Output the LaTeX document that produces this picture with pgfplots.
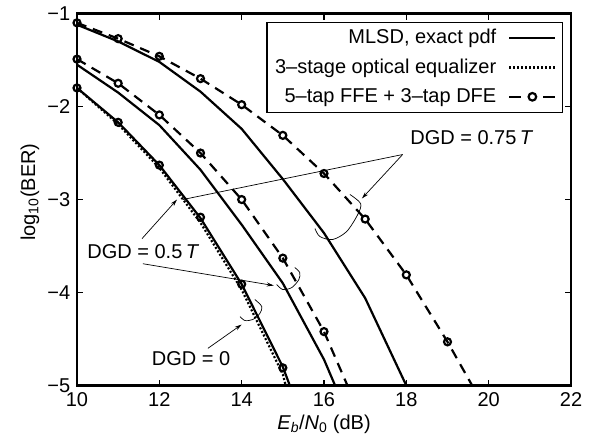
\documentclass[border=0pt]{standalone}
\usepackage{fontspec}
\setmainfont{Liberation Sans}
\usepackage{pgfplots}
\pgfplotsset{compat=1.18}
\usetikzlibrary{arrows.meta}

\newcommand{\fs}{\fontsize{20}{23}\selectfont}

\begin{document}
\fs
\begin{tikzpicture}
\begin{axis}[
    scale only axis,
    width=494pt, height=372pt,
    xmin=10, xmax=22, ymin=-5, ymax=-1,
    xtick={10,12,...,22}, ytick={-5,-4,-3,-2,-1},
    xticklabels={10,12,14,16,18,20,22},
    yticklabels={−5,−4,−3,−2,−1},
    tick align=inside, major tick length=6pt,
    tick style={line width=1.5pt, black},
    axis line style={line width=2.2pt},
    tick label style={font=\fs},
    xlabel={\textit{E}\textsubscript{\textit{b}}/\textit{N}\textsubscript{0} (dB)},
    ylabel={log\textsubscript{10}(BER)},
    label style={font=\fs},
    xlabel style={at={(axis description cs:0.5,-0.105)}, anchor=center},
    ylabel style={at={(axis description cs:-0.095,0.52)}, anchor=center},
    legend style={at={(0.984,0.978)}, anchor=north east, draw=black,
        line width=1.2pt, font=\fs, row sep=8pt, inner xsep=6pt, inner ysep=5pt},
    legend cell align=right, legend plot pos=right,
    legend image code/.code={\path (0pt,0pt) (56pt,0pt); \draw[#1] (10pt,0pt) -- (56pt,0pt);},
]
\addlegendimage{line width=2.2pt, black}
\addlegendentry{MLSD, exact pdf}
\addlegendimage{line width=2.2pt, black, dash pattern=on 2pt off 2pt}
\addlegendentry{3–stage optical equalizer}
\addlegendimage{line width=2.2pt, black, legend image code/.code={
    \path (0pt,0pt) (56pt,0pt);
    \draw[line width=2.2pt] (10pt,0pt) -- (22pt,0pt) (44pt,0pt) -- (56pt,0pt);
    \draw[line width=2.2pt] (33pt,0pt) circle (3.8pt);}}
\addlegendentry{5–tap FFE + 3–tap DFE}

% MLSD, exact pdf
\addplot[forget plot, black, line width=2.2pt] coordinates {
    (10,-1.80)(11,-2.17)(12,-2.63)(13,-3.20)(14,-3.91)(15,-4.80)(15.17,-5)};
\addplot[forget plot, black, line width=2.2pt] coordinates {
    (10,-1.55)(11,-1.85)(12,-2.20)(13,-2.68)(14,-3.27)(15,-3.90)(16,-4.72)(16.27,-5)};
\addplot[forget plot, black, line width=2.2pt] coordinates {
    (10,-1.12)(11,-1.30)(12,-1.52)(13,-1.84)(14,-2.24)(15,-2.78)(16,-3.36)(17,-4.06)(18,-5)};

% optical equalizer
\addplot[forget plot, black, line width=2.2pt, dash pattern=on 2pt off 2pt] coordinates {
    (10,-1.80)(11,-2.19)(12,-2.66)(13,-3.25)(14,-3.97)(15,-4.88)(15.07,-5)};

% FFE + DFE, lines
\addplot[forget plot, black, line width=2.2pt, dash pattern=on 10pt off 7pt] coordinates {
    (10,-1.49)(11,-1.75)(12,-2.09)(13,-2.50)(14,-3.00)(15,-3.63)(16,-4.42)(16.57,-5)};
\addplot[forget plot, black, line width=2.2pt, dash pattern=on 10pt off 7pt] coordinates {
    (10,-1.10)(11,-1.27)(12,-1.46)(13,-1.70)(14,-1.98)(15,-2.31)(16,-2.72)(17,-3.21)(18,-3.81)(19,-4.53)(19.6,-5)};

% FFE + DFE, marks
\addplot[forget plot, only marks, mark=o, mark size=3.5pt, mark options={line width=2.2pt, fill=white}] coordinates {
    (10,-1.80)(11,-2.17)(12,-2.63)(13,-3.19)(14,-3.91)(15,-4.81)};
\addplot[forget plot, only marks, mark=o, mark size=3.5pt, mark options={line width=2.2pt, fill=white}] coordinates {
    (10,-1.49)(11,-1.75)(12,-2.09)(13,-2.50)(14,-3.00)(15,-3.63)(16,-4.42)};
\addplot[forget plot, only marks, mark=o, mark size=3.5pt, mark options={line width=2.2pt, fill=white}] coordinates {
    (10,-1.10)(11,-1.27)(12,-1.46)(13,-1.70)(14,-1.98)(15,-2.31)(16,-2.72)(17,-3.21)(18,-3.81)(19,-4.53)};

% annotations
\node[font=\fs] at (19.59,-2.333) {DGD = 0.75\,\textit{T}};
\draw[line width=0.7pt] (17.91,-2.516) -- (12.57,-3.0);
\draw[line width=0.7pt, -{Stealth[length=7pt,width=4pt]}] (17.91,-2.516) -- (16.92,-2.989);
\draw[line width=0.7pt] plot[smooth] coordinates {(16.63,-2.946)(16.89,-3.043)(16.82,-3.161)(16.55,-3.344)(16.21,-3.430)(15.90,-3.398)(15.78,-3.312)};

\node[font=\fs] at (11.61,-3.56) {DGD = 0.5\,\textit{T}};
\draw[line width=0.7pt, -{Stealth[length=7pt,width=4pt]}] (11.58,-3.42) -- (12.43,-3.0);
\draw[line width=0.7pt, -{Stealth[length=7pt,width=4pt]}] (11.60,-3.69) -- (14.78,-3.925);
\draw[line width=0.7pt] plot[smooth] coordinates {(14.85,-3.914)(15.00,-3.968)(15.22,-3.946)(15.39,-3.860)(15.41,-3.785)(15.29,-3.731)};

\node[font=\fs] at (12.77,-4.71) {DGD = 0};
\draw[line width=0.7pt, -{Stealth[length=7pt,width=4pt]}] (13.18,-4.60) -- (14.0,-4.344);
\draw[line width=0.7pt] plot[smooth] coordinates {(13.96,-4.258)(14.08,-4.301)(14.27,-4.290)(14.44,-4.226)(14.49,-4.151)(14.32,-4.075)};
\end{axis}
\path (current axis.south west) ++(-77pt,-61pt) rectangle ++(600pt,440pt);
\end{tikzpicture}
\end{document}
